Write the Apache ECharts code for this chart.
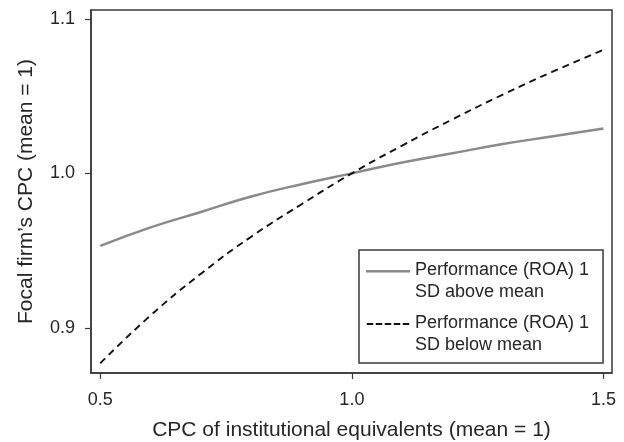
<!DOCTYPE html>
<html>
<head>
<meta charset="utf-8">
<script src="https://cdn.jsdelivr.net/npm/echarts@6/dist/echarts.min.js"></script>
<style>
  html, body { margin: 0; padding: 0; background: #fff; }
  #chart { width: 624px; height: 442px; }
</style>
</head>
<body>
<div id="chart"></div>
<script>
// CPC of institutional equivalents (mean = 1)
const cpcInst = [0.5, 0.6, 0.7, 0.8, 0.9, 1.0, 1.1, 1.2, 1.3, 1.4, 1.5]
// focal firm's CPC, ROA 1 SD above mean (grey solid)
const aboveMean = [0.953, 0.965, 0.975, 0.985, 0.993, 1.0, 1.007, 1.013, 1.019, 1.024, 1.029]
// focal firm's CPC, ROA 1 SD below mean (black dashed)
const belowMean = [0.877, 0.908, 0.935, 0.959, 0.980, 1.0, 1.018, 1.035, 1.051, 1.066, 1.080]
const xTicks = [0.5, 1.0, 1.5]
const yTicks = [0.9, 1.0, 1.1]
const names = ['Performance (ROA) 1\nSD above mean', 'Performance (ROA) 1\nSD below mean']

const font = '"Liberation Sans", Arial, sans-serif'
const ink = '#262626'

// legend keys: line drawn at the top of the icon box so it sits next to the
// first text line; the tiny square at the bottom only stretches the box
const keySolid = 'path://M0,0h44v2.4h-44z M0,22h0.01v0.01h-0.01z'
const keyDashed = 'path://M0,0h6.5v2h-6.5z M9,0h6.5v2h-6.5z M18,0h6.5v2h-6.5z M27,0h6.5v2h-6.5z M36,0h6.5v2h-6.5z M0,22h0.01v0.01h-0.01z'

const chart = echarts.init(document.getElementById('chart'), null, { renderer: 'canvas' })

chart.setOption({
  animation: false,
  textStyle: { fontFamily: font },
  grid: {
    left: 91, right: 12, top: 10, bottom: 69,
    outerBoundsMode: 'none',
    containLabel: false,
    show: true, borderColor: '#3a3a3a', borderWidth: 1.5,
  },
  legend: {
    orient: 'vertical',
    left: 359, top: 250,
    padding: [9, 14, 7, 7],
    backgroundColor: '#fff',
    borderColor: '#3a3a3a', borderWidth: 1.5, borderRadius: 0,
    itemWidth: 44, itemHeight: 22, itemGap: 9,
    data: [
      { name: names[0], icon: keySolid, itemStyle: { color: '#8a8a8a', borderWidth: 0 } },
      { name: names[1], icon: keyDashed, itemStyle: { color: '#111', borderWidth: 0 } },
    ],
    textStyle: {
      fontSize: 18, color: ink, fontFamily: font,
      lineHeight: 22,
    },
  },
  xAxis: {
    type: 'value',
    min: 0.4815, max: 1.517,
    name: 'CPC of institutional equivalents (mean = 1)',
    nameLocation: 'middle', nameGap: 47,
    nameTextStyle: { fontSize: 21, color: ink, fontFamily: font },
    axisLine: { show: true, onZero: false, lineStyle: { color: '#3a3a3a', width: 1.5 } },
    axisTick: { show: true, inside: false, length: 6, customValues: xTicks, lineStyle: { color: '#3a3a3a', width: 1.2 } },
    axisLabel: {
      customValues: xTicks, margin: 18,
      fontSize: 18, color: ink, fontFamily: font,
      formatter: v => v.toFixed(1),
    },
    splitLine: { show: false },
  },
  yAxis: {
    type: 'value',
    min: 0.8707, max: 1.1058,
    name: 'Focal firm\u2019s CPC (mean = 1)',
    nameLocation: 'middle', nameGap: 54,
    nameTextStyle: { fontSize: 21, color: ink, fontFamily: font },
    axisLine: { show: true, onZero: false, lineStyle: { color: '#3a3a3a', width: 1.5 } },
    axisTick: { show: true, inside: false, length: 6, customValues: yTicks, lineStyle: { color: '#3a3a3a', width: 1.2 } },
    axisLabel: {
      customValues: yTicks, margin: 16,
      fontSize: 18, color: ink, fontFamily: font,
      formatter: v => v.toFixed(1),
    },
    splitLine: { show: false },
  },
  series: [
    {
      name: names[0],
      type: 'line',
      data: cpcInst.map((x, i) => [x, aboveMean[i]]),
      smooth: true,
      symbol: 'none',
      lineStyle: { color: '#8a8a8a', width: 2.5, type: 'solid' },
      itemStyle: { color: '#8a8a8a' },
    },
    {
      name: names[1],
      type: 'line',
      data: cpcInst.map((x, i) => [x, belowMean[i]]),
      smooth: true,
      symbol: 'none',
      lineStyle: { color: '#111', width: 1.9, type: [7, 5] },
      itemStyle: { color: '#111' },
    },
  ],
})
</script>
</body>
</html>
